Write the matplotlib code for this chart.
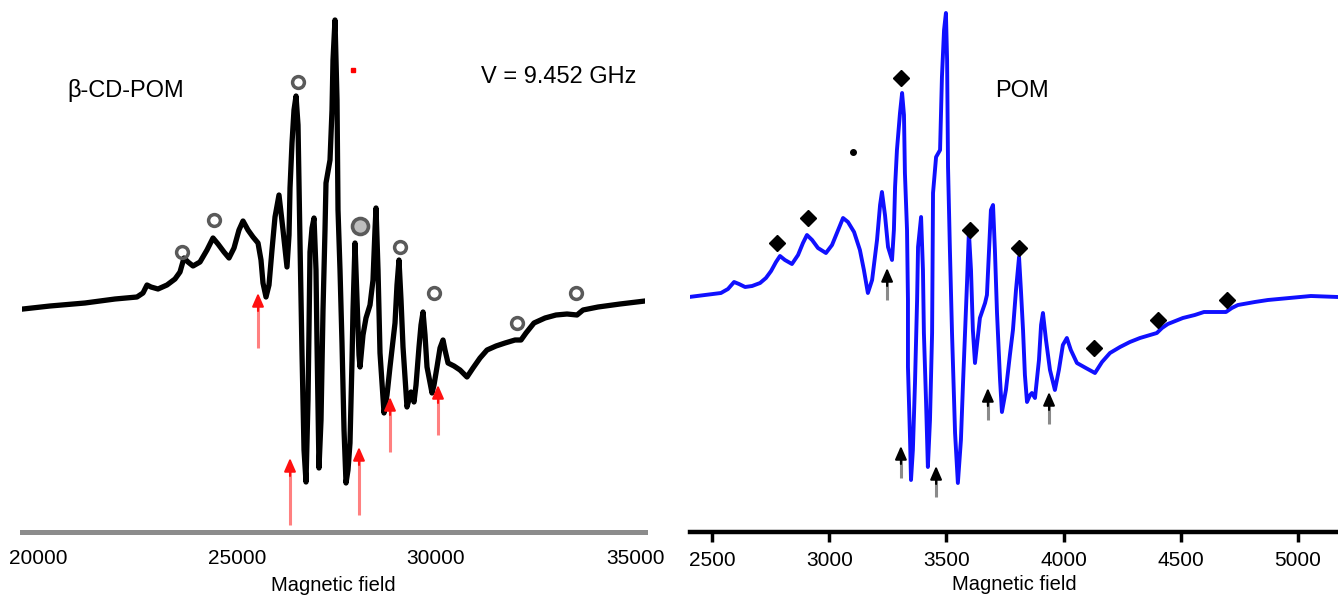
import matplotlib
matplotlib.use("Agg")
import matplotlib.pyplot as plt

plt.rcParams['font.family'] = ['Liberation Sans', 'DejaVu Sans']

# ---- beta-CD-POM spectrum (left) ----
field_cd = [19623, 20302, 21181, 21935, 22487, 22638, 22739, 22839, 23015, 23241,
            23442, 23568, 23668, 23769, 23895, 24070, 24246, 24397, 24523, 24673,
            24799, 24925, 25050, 25151, 25276, 25402, 25528, 25603, 25653, 25729,
            25804, 25879, 25955, 26055, 26156, 26256, 26307, 26332, 26382, 26432,
            26483, 26533, 26583, 26633, 26684, 26734, 26784, 26809, 26834, 26885,
            26935, 26985, 27010, 27060, 27111, 27161, 27211, 27236, 27337, 27387,
            27412, 27462, 27513, 27538, 27588, 27638, 27689, 27739, 27789, 27839,
            27890, 27915, 27965, 28015, 28065, 28091, 28166, 28241, 28342, 28417,
            28467, 28493, 28543, 28593, 28694, 28769, 28844, 28970, 29020, 29070,
            29121, 29171, 29271, 29372, 29447, 29498, 29573, 29623, 29674, 29724,
            29774, 29900, 29950, 30025, 30101, 30176, 30226, 30302, 30452, 30603,
            30779, 30930, 31106, 31282, 31508, 31734, 31985, 32136, 32261, 32462,
            32739, 33015, 33292, 33543, 33694, 34071, 34623, 35251]
signal_cd = [-0.9, -0.6, -0.3, 0.1, 0.3, 0.7, 1.5, 1.3, 1.1, 1.5,
             2.1, 2.8, 4.2, 3.8, 3.4, 3.8, 5.0, 6.2, 5.6, 4.8,
             4.2, 5.2, 7.0, 7.9, 7.0, 6.3, 5.7, 4.0, 1.7, 0.3,
             1.5, 5.0, 8.3, 10.5, 7.0, 3.3, 6.5, 11.2, 15.7, 19.0,
             20.4, 17.5, 5.7, -5.3, -15.0, -18.2, -10.0, -3.0, 4.8, 7.2,
             8.2, 3.0, -4.3, -16.8, -12.0, -1.0, 7.0, 11.7, 14.0, 19.0,
             24.0, 28.0, 20.0, 9.0, 3.0, -4.3, -13.0, -18.3, -17.0, -14.3,
             -6.0, -1.0, 5.7, 0.0, -5.5, -6.7, -3.5, -1.8, -0.5, 2.0,
             7.0, 9.2, 3.0, -5.3, -11.3, -9.5, -6.7, -2.3, 1.5, 4.0,
             0.0, -4.7, -10.7, -9.2, -10.2, -8.5, -4.7, -2.5, -1.2, -3.5,
             -6.7, -9.3, -8.5, -6.7, -4.8, -4.0, -5.0, -6.3, -6.6, -7.0,
             -7.7, -6.8, -5.8, -5.0, -4.6, -4.3, -4.0, -4.0, -3.3, -2.3,
             -1.8, -1.5, -1.4, -1.5, -1.0, -0.7, -0.4, -0.1]

# open-circle marks on the left spectrum
ring_field = [23618, 24422, 26533, 29096, 29950, 32035, 33518]
ring_signal = [4.8, 8.0, 21.8, 5.3, 0.7, -2.3, 0.7]
big_ring_field = [28091]
big_ring_signal = [7.4]
red_dot = (27915, 23.0)

# red arrows: field, tip, tail
red_arrow_field = [25528, 26332, 28065, 28844, 30050]
red_arrow_tip = [0.7, -15.8, -14.7, -9.7, -8.5]
red_arrow_tail = [-4.8, -22.5, -21.5, -15.2, -13.5]

# ---- POM spectrum (right) ----
field_pom = [2402, 2470, 2538, 2568, 2594, 2615, 2641, 2671, 2705, 2730,
             2752, 2773, 2790, 2811, 2841, 2867, 2888, 2905, 2927, 2952,
             2986, 3012, 3038, 3059, 3080, 3106, 3131, 3148, 3165, 3183,
             3204, 3217, 3225, 3238, 3251, 3268, 3276, 3281, 3289, 3302,
             3311, 3319, 3323, 3332, 3336, 3336, 3345, 3349, 3357, 3366,
             3375, 3379, 3392, 3400, 3404, 3413, 3421, 3430, 3439, 3443,
             3456, 3473, 3481, 3490, 3498, 3503, 3507, 3515, 3524, 3537,
             3549, 3562, 3571, 3588, 3596, 3605, 3613, 3622, 3635, 3643,
             3665, 3673, 3682, 3690, 3699, 3707, 3716, 3729, 3737, 3754,
             3771, 3784, 3797, 3810, 3818, 3827, 3835, 3844, 3857, 3865,
             3878, 3895, 3904, 3912, 3925, 3942, 3963, 3980, 3997, 4014,
             4031, 4057, 4095, 4134, 4164, 4198, 4241, 4283, 4326, 4369,
             4398, 4420, 4445, 4509, 4560, 4599, 4646, 4693, 4718, 4744,
             4816, 4872, 4966, 5055, 5171]
signal_pom = [0.3, 0.5, 0.7, 1.1, 1.8, 1.6, 1.3, 1.4, 1.7, 2.2,
              2.9, 3.8, 4.4, 4.0, 3.6, 4.5, 5.7, 6.5, 6.0, 5.2,
              4.7, 5.5, 7.0, 8.2, 7.8, 6.8, 5.0, 3.0, 0.7, 2.0,
              6.0, 9.5, 10.8, 8.5, 5.3, 4.0, 7.0, 11.3, 15.0, 18.7,
              20.7, 18.5, 12.7, 7.0, 0.0, -6.7, -14.0, -18.0, -15.0, -8.3,
              0.0, 5.3, 8.3, 3.0, -3.3, -10.0, -16.7, -12.0, -3.3, 10.7,
              14.3, 15.0, 22.3, 27.0, 28.7, 24.0, 13.3, 5.0, -3.3, -13.3,
              -18.3, -14.0, -8.3, 1.7, 6.8, 3.0, -3.0, -6.3, -3.5, -1.8,
              -0.3, 0.5, 5.0, 9.0, 9.5, 5.0, -1.3, -8.0, -11.2, -9.0,
              -5.5, -3.0, 1.0, 4.3, 1.0, -3.0, -7.5, -10.2, -9.5, -9.3,
              -9.8, -6.0, -2.5, -1.3, -4.0, -7.0, -9.0, -7.0, -4.5, -3.8,
              -5.0, -6.3, -6.8, -7.3, -6.2, -5.3, -4.7, -4.2, -3.8, -3.5,
              -3.3, -2.8, -2.4, -1.8, -1.5, -1.2, -1.2, -1.2, -0.8, -0.5,
              -0.2, 0.0, 0.2, 0.4, 0.3]

diamond_field = [2777, 2910, 3306, 3601, 3810, 4130, 4403, 4697]
diamond_signal = [5.7, 8.2, 22.2, 7.0, 5.2, -4.8, -2.0, 0.0]
black_dot = (3102, 14.8)

black_arrow_field = [3247, 3306, 3456, 3677, 3938]
black_arrow_tip = [3.2, -14.6, -16.6, -8.8, -9.2]
black_arrow_tail = [0.0, -17.8, -19.7, -12.0, -12.4]

ticks_cd = [20000, 25000, 30000, 35000]
ticks_pom = [2500, 3000, 3500, 4000, 4500, 5000]

fig = plt.figure(figsize=(13.38, 5.97), dpi=100)
ax1 = fig.add_axes([0.01644, 0.10888, 0.46562, 0.89112])
ax2 = fig.add_axes([0.5157, 0.10888, 0.4843, 0.89112])


def arrows(ax, xs, tips, tails, shaft, head):
    # light shaft with a solid head, as in the source figure
    for x, t, b in zip(xs, tips, tails):
        ax.plot([x, x], [b, t - 1.0], color=shaft, lw=2.2, solid_capstyle='butt', zorder=4)
        ax.annotate('', xy=(x, t), xytext=(x, t - 1.8),
                    arrowprops=dict(arrowstyle='-|>,head_length=0.8,head_width=0.35',
                                    color=head, lw=1.5, shrinkA=0, shrinkB=0),
                    zorder=5)


# left panel
ax1.plot(field_cd, signal_cd, color='black', lw=3.8, solid_joinstyle='round', zorder=3)
ax1.plot(ring_field, ring_signal, 'o', ms=8.5, mfc='none', mec='#5a5a5a', mew=2.5, zorder=4)
ax1.plot(big_ring_field, big_ring_signal, 'o', ms=11.5, mfc='#bdbdbd', mec='#5a5a5a', mew=2.6, zorder=4)
ax1.plot(*red_dot, 's', ms=3, color='red', zorder=4)
arrows(ax1, red_arrow_field, red_arrow_tip, red_arrow_tail, '#ff8080', '#ff1010')
ax1.text(20729, 20.9, 'β-CD-POM', fontsize=17, va='center', ha='left')
ax1.text(31131, 22.3, 'V = 9.452 GHz', fontsize=17, va='center', ha='left')
ax1.set_xlim(19598, 35251)
ax1.set_xticks(ticks_cd)
ax1.set_xticklabels([str(t) for t in ticks_cd])
ax1.tick_params(axis='x', length=0, pad=12, labelsize=15)
ax1.spines['bottom'].set_color('#8c8c8c')
ax1.spines['bottom'].set_linewidth(3.6)
ax1.set_xlabel('Magnetic field', fontsize=14.5, labelpad=6)

# right panel
ax2.plot(field_pom, signal_pom, color='#1010ff', lw=2.8, solid_joinstyle='round', zorder=3)
ax2.plot(diamond_field, diamond_signal, 'D', ms=8.5, color='black', zorder=4)
ax2.plot(*black_dot, 'o', ms=4, color='black', zorder=4)
arrows(ax2, black_arrow_field, black_arrow_tip, black_arrow_tail, '#8a8a8a', 'black')
ax2.text(3707, 20.9, 'POM', fontsize=17, va='center', ha='left')
ax2.set_xlim(2406, 5171)
ax2.set_xticks(ticks_pom)
ax2.set_xticklabels([str(t) for t in ticks_pom])
ax2.tick_params(axis='x', length=7, width=2.5, direction='out', pad=7, labelsize=15)
ax2.spines['bottom'].set_color('black')
ax2.spines['bottom'].set_linewidth(3.2)
ax2.set_xlabel('Magnetic field', fontsize=14.5, labelpad=3)

for ax in (ax1, ax2):
    ax.set_ylim(-23.2, 30.0)
    ax.set_yticks([])
    for s in ('top', 'left', 'right'):
        ax.spines[s].set_visible(False)
    ax.patch.set_alpha(0)

fig.savefig('out.png', dpi=100)
